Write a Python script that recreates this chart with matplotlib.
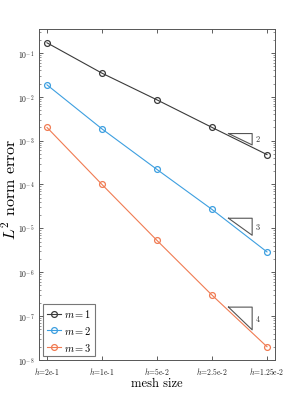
import matplotlib
matplotlib.use("Agg")
import matplotlib.pyplot as plt
import matplotlib.ticker as mtick
import numpy as np

plt.rcParams["font.family"] = "serif"
plt.rcParams["font.serif"] = ["cmr10", "DejaVu Serif"]
plt.rcParams["mathtext.fontset"] = "cm"
plt.rcParams["axes.formatter.use_mathtext"] = True

# data
mesh_labels = ["$h$=2e-1", "$h$=1e-1", "$h$=5e-2", "$h$=2.5e-2", "$h$=1.25e-2"]
err_m1 = [1.7e-1, 3.45e-2, 8.5e-3, 2.0e-3, 4.8e-4]
err_m2 = [1.87e-2, 1.85e-3, 2.2e-4, 2.7e-5, 2.9e-6]
err_m3 = [2.0e-3, 1.0e-4, 5.3e-6, 3.0e-7, 2.0e-8]
series_names = ["$m=1$", "$m=2$", "$m=3$"]
rates = [2, 3, 4]
tri_top = [1.45e-3, 1.7e-5, 1.6e-7]

colors = ["#3a3a3a", "#3d9fe0", "#f07b52"]

fig_1, axes_1 = plt.subplots(figsize=[3.05, 4.06], dpi=100)
fig_1.subplots_adjust(left=0.1295, right=0.9016, top=0.926, bottom=0.111)

pos = np.arange(1, len(mesh_labels) + 1)
for errs, name, col in zip([err_m1, err_m2, err_m3], series_names, colors):
    axes_1.semilogy(
        pos, errs, "-o", color=col, label=name, linewidth=0.8,
        markersize=4.2, markerfacecolor="none", markeredgewidth=0.9,
    )

# slope triangles
tri_x0, tri_x1 = 4.3, 4.73
for top, p in zip(tri_top, rates):
    bottom = top * 2.0 ** (-p * (tri_x1 - tri_x0))
    axes_1.plot(
        [tri_x0, tri_x1, tri_x1, tri_x0],
        [top, top, bottom, top],
        color="#555555", linewidth=0.8,
    )
    axes_1.text(
        tri_x1 + 0.06, np.sqrt(top * bottom), str(p),
        fontsize=6, va="center", ha="left", color="#333333",
    )

axes_1.set_xlim(0.864, 5.145)
axes_1.set_ylim(1e-8, 0.35)
axes_1.set_xticks(pos)
axes_1.set_xticklabels(mesh_labels)
axes_1.yaxis.set_major_locator(mtick.LogLocator(base=10, numticks=20))
axes_1.yaxis.set_minor_locator(mtick.LogLocator(base=10, subs=np.arange(2, 10), numticks=20))
axes_1.yaxis.set_minor_formatter(mtick.NullFormatter())

axes_1.tick_params(which="both", direction="in", top=True, right=True,
                   colors="#444444", labelcolor="#222222", labelsize=5.5)
axes_1.tick_params(which="major", length=3, width=0.6)
axes_1.tick_params(which="minor", length=1.6, width=0.4)
for sp in axes_1.spines.values():
    sp.set_color("#555555")
    sp.set_linewidth(0.7)

axes_1.set_xlabel("mesh size", fontsize=9, labelpad=1)
axes_1.set_ylabel(r"$L^{2}$ norm error", fontsize=11.5)
axes_1.yaxis.set_label_coords(-0.09, 0.52)

leg = axes_1.legend(loc="lower left", fontsize=7.5, fancybox=False,
                    handlelength=1.4, handletextpad=0.25, borderpad=0.35,
                    labelspacing=0.45, borderaxespad=0.35)
leg.get_frame().set_edgecolor("#555555")
leg.get_frame().set_linewidth(0.8)

fig_1.savefig("out.png", dpi=100)
plt.close()
